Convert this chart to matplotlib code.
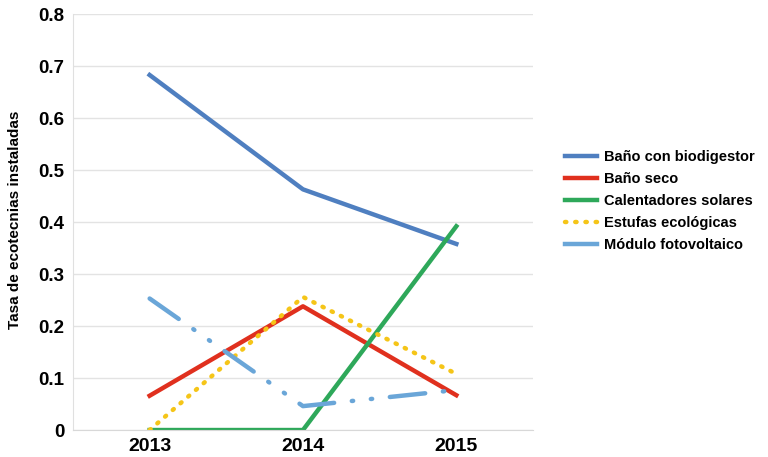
import matplotlib.pyplot as plt

# data
years = ['2013', '2014', '2015']
bano_biodigestor = [0.683, 0.463, 0.358]
bano_seco = [0.066, 0.238, 0.067]
calentadores = [0.0, 0.0, 0.392]
estufas = [0.0, 0.256, 0.108]
modulo_fv = [0.253, 0.046, 0.077]

plt.rcParams['font.family'] = ['Liberation Sans', 'DejaVu Sans']
plt.rcParams['font.weight'] = 'bold'

fig = plt.figure(figsize=(7.68, 4.57), dpi=100)
ax = fig.add_axes([0.095, 0.059, 0.599, 0.910])

x = range(len(years))
ax.plot(x, bano_biodigestor, color='#4f7fc0', lw=3.2, label='Baño con biodigestor')
ax.plot(x, bano_seco, color='#e0301e', lw=3.2, label='Baño seco')
ax.plot(x, calentadores, color='#2ea85a', lw=3.2, label='Calentadores solares')
ax.plot(x, estufas, color='#f5c518', lw=3.2, ls=(0, (0.3, 2.0)),
        dash_capstyle='round', label='Estufas ecológicas')
ax.plot(x, modulo_fv, color='#6aa6d8', lw=3.2,
        ls=(0, (8, 4, 0.3, 4, 0.3, 4)), dash_capstyle='round',
        label='Módulo fotovoltaico')

ax.set_xlim(-0.5, 2.5)
ax.set_ylim(0, 0.8)
ax.set_xticks(list(x))
ax.set_xticklabels(years, fontsize=14, fontweight='bold')
ax.set_yticks([i / 10 for i in range(9)])
ax.set_yticklabels(['0', '0.1', '0.2', '0.3', '0.4', '0.5', '0.6', '0.7', '0.8'],
                   fontsize=13.5, fontweight='bold')
ax.tick_params(length=0, pad=6)
ax.grid(axis='y', color='#e3e3e3', lw=1)
ax.set_axisbelow(True)
for s in ['top', 'right']:
    ax.spines[s].set_visible(False)
ax.spines['left'].set_color('#e0e0e0')
ax.spines['bottom'].set_color('#d8d8d8')

ax.set_ylabel('Tasa de ecotecnias instaladas', fontsize=11, fontweight='bold')
ax.yaxis.set_label_coords(-0.11, 0.505)

handles, labels = ax.get_legend_handles_labels()
# legend shows the fotovoltaico line as solid
handles[-1] = plt.Line2D([], [], color='#6aa6d8', lw=3.2)
leg = fig.legend(handles, labels, loc='center left', bbox_to_anchor=(0.718, 0.56),
                 frameon=False, fontsize=10.5, handlelength=2.2, labelspacing=0.55,
                 handletextpad=0.5)
for t in leg.get_texts():
    t.set_fontweight('bold')

fig.savefig('out.png', dpi=100)
